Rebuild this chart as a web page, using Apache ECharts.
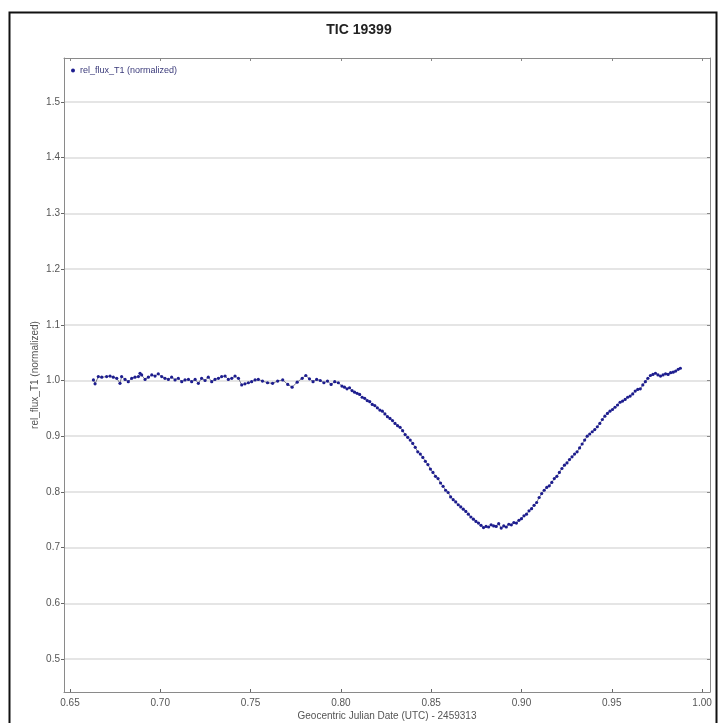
<!DOCTYPE html>
<html>
<head>
<meta charset="utf-8">
<script src="https://cdn.jsdelivr.net/npm/echarts@6/dist/echarts.min.js"></script>
<style>
  html, body { margin: 0; padding: 0; background: #fff; }
  #main { width: 718px; height: 723px; }
</style>
</head>
<body>
<div id="main"></div>
<script>
// Geocentric JD (UTC) - 2459313
var jdOffset = [
  0.6630, 0.6639, 0.6657, 0.6676, 0.6703, 0.6722, 0.6740, 0.6759, 0.6777, 0.6786,
  0.6805, 0.6823, 0.6842, 0.6860, 0.6879, 0.6888, 0.6897, 0.6916, 0.6934, 0.6953,
  0.6971, 0.6989, 0.7008, 0.7026, 0.7045, 0.7063, 0.7082, 0.7100, 0.7119, 0.7137,
  0.7156, 0.7174, 0.7193, 0.7211, 0.7229, 0.7248, 0.7266, 0.7285, 0.7303, 0.7322,
  0.7340, 0.7359, 0.7377, 0.7396, 0.7414, 0.7433, 0.7451, 0.7469, 0.7488, 0.7506,
  0.7525, 0.7543,
  0.7566, 0.7594, 0.7622, 0.7650, 0.7678, 0.7706, 0.7730, 0.7758, 0.7786, 0.7806,
  0.7826, 0.7846, 0.7866, 0.7886, 0.7906, 0.7926, 0.7946, 0.7966, 0.7986, 0.8006,
  0.8020, 0.8034, 0.8048, 0.8062, 0.8076, 0.8090, 0.8104, 0.8118, 0.8132, 0.8146,
  0.8160, 0.8174, 0.8188, 0.8202, 0.8216, 0.8230, 0.8244, 0.8258, 0.8272, 0.8286,
  0.8300, 0.8314, 0.8328, 0.8342, 0.8356, 0.8370, 0.8384, 0.8398, 0.8412, 0.8426,
  0.8440, 0.8454, 0.8468, 0.8482, 0.8496, 0.8510, 0.8524, 0.8538, 0.8552, 0.8566,
  0.8580, 0.8594, 0.8608, 0.8622, 0.8636, 0.8650, 0.8664, 0.8678, 0.8692, 0.8706,
  0.8720, 0.8734, 0.8748, 0.8762, 0.8776,
  0.8790, 0.8804, 0.8818, 0.8832, 0.8846, 0.8860, 0.8874, 0.8888, 0.8902, 0.8916,
  0.8930, 0.8944, 0.8958, 0.8972,
  0.8986, 0.9000, 0.9014, 0.9028, 0.9042, 0.9056, 0.9070, 0.9084, 0.9098, 0.9112,
  0.9126, 0.9140, 0.9154, 0.9168, 0.9182, 0.9196, 0.9210, 0.9224, 0.9238, 0.9252,
  0.9266, 0.9280, 0.9294, 0.9308, 0.9322, 0.9336, 0.9350, 0.9364, 0.9378, 0.9392,
  0.9406, 0.9420, 0.9434, 0.9448, 0.9462, 0.9476, 0.9490, 0.9504, 0.9518, 0.9532,
  0.9546, 0.9560, 0.9574, 0.9588, 0.9602, 0.9616, 0.9630, 0.9644,
  0.9658, 0.9672, 0.9686, 0.9700, 0.9714, 0.9728, 0.9742, 0.9756, 0.9770, 0.9784,
  0.9798, 0.9812, 0.9826, 0.9840, 0.9854, 0.9868, 0.9880
];

var relFlux = [
  1.001, 0.994, 1.007, 1.006, 1.007, 1.008, 1.006, 1.004, 0.995, 1.007,
  1.002, 0.998, 1.004, 1.006, 1.007, 1.013, 1.010, 1.002, 1.006, 1.010,
  1.008, 1.012, 1.007, 1.004, 1.002, 1.006, 1.001, 1.004, 0.998, 1.001,
  1.002, 0.998, 1.002, 0.995, 1.004, 1.000, 1.006, 0.998, 1.002, 1.004,
  1.007, 1.008, 1.002, 1.004, 1.008, 1.004, 0.992, 0.994, 0.996, 0.998,
  1.001, 1.002,
  0.999, 0.996, 0.995, 0.999, 1.001, 0.993, 0.988, 0.997, 1.004, 1.009,
  1.003, 0.998, 1.002, 1.000, 0.996, 0.999, 0.993, 0.998, 0.996, 0.990,
  0.988, 0.985, 0.987, 0.982, 0.979, 0.977, 0.975, 0.970, 0.968, 0.964,
  0.962, 0.957, 0.955, 0.951, 0.947, 0.945, 0.940, 0.935, 0.932, 0.928,
  0.923, 0.919, 0.916, 0.910, 0.903, 0.898, 0.893, 0.887, 0.880, 0.872,
  0.868, 0.862, 0.855, 0.849, 0.841, 0.835, 0.828, 0.824, 0.816, 0.810,
  0.803, 0.799, 0.791, 0.786, 0.782, 0.777, 0.773, 0.769, 0.765, 0.760,
  0.755, 0.751, 0.747, 0.744, 0.740,
  0.736, 0.738, 0.737, 0.741, 0.739, 0.738, 0.743, 0.735, 0.739, 0.737,
  0.742, 0.741, 0.745, 0.744,
  0.749, 0.752, 0.757, 0.760, 0.766, 0.770, 0.776, 0.781, 0.790, 0.797,
  0.803, 0.808, 0.811, 0.817, 0.824, 0.828, 0.835, 0.842, 0.848, 0.852,
  0.858, 0.863, 0.868, 0.872, 0.879, 0.886, 0.893, 0.900, 0.904, 0.908,
  0.912, 0.917, 0.923, 0.930, 0.936, 0.941, 0.945, 0.948, 0.952, 0.956,
  0.961, 0.963, 0.966, 0.970, 0.972, 0.976, 0.981, 0.984,
  0.985, 0.992, 0.998, 1.004, 1.009, 1.011, 1.013, 1.010, 1.008, 1.010,
  1.012, 1.011, 1.014, 1.015, 1.017, 1.020, 1.022
];

var xTicks = [0.65, 0.70, 0.75, 0.80, 0.85, 0.90, 0.95, 1.00];
var yTicks = [0.5, 0.6, 0.7, 0.8, 0.9, 1.0, 1.1, 1.2, 1.3, 1.4, 1.5];

var chart = echarts.init(document.getElementById('main'));

var points = jdOffset.map(function (x, i) { return [x, relFlux[i]]; });

var font = 'Liberation Sans, Arial, sans-serif';
var axisGray = '#8a8a8a';

var option = {
  backgroundColor: '#fff',
  animation: false,
  title: {
    text: 'TIC 19399',
    left: 'center',
    top: 18,
    textStyle: { fontFamily: font, fontSize: 14, fontWeight: 'bold', color: '#222' }
  },
  legend: {
    left: 66,
    top: 61,
    icon: 'circle',
    itemWidth: 4,
    itemHeight: 4,
    itemGap: 4,
    textStyle: { fontFamily: font, fontSize: 9, color: '#3a3a7a' },
    data: ['rel_flux_T1 (normalized)']
  },
  grid: { left: 64, right: 8, top: 58, bottom: 31, outerBoundsMode: 'none' },
  xAxis: [{
    type: 'value',
    min: 0.6467,
    max: 1.0044,
    name: 'Geocentric Julian Date (UTC) - 2459313',
    nameLocation: 'middle',
    nameGap: 19,
    nameMoveOverlap: false,
    nameTextStyle: { fontFamily: font, fontSize: 10, color: '#555' },
    axisLine: { lineStyle: { color: axisGray, width: 1 } },
    axisTick: { inside: true, length: 3, lineStyle: { color: '#666' }, customValues: xTicks },
    axisLabel: {
      customValues: xTicks,
      margin: 6,
      fontFamily: font, fontSize: 10, color: '#555',
      formatter: function (v) { return v.toFixed(2); }
    },
    splitLine: { show: false }
  }, {
    type: 'value',
    position: 'top',
    min: 0.6467,
    max: 1.0044,
    axisLine: { show: true, lineStyle: { color: axisGray, width: 1 } },
    axisTick: { inside: true, length: 3, lineStyle: { color: '#888' }, customValues: xTicks },
    axisLabel: { show: false },
    splitLine: { show: false }
  }],
  yAxis: [{
    type: 'value',
    min: 0.4408,
    max: 1.579,
    name: 'rel_flux_T1 (normalized)',
    nameLocation: 'middle',
    nameGap: 24,
    nameMoveOverlap: false,
    nameTextStyle: { fontFamily: font, fontSize: 10, color: '#555' },
    axisLine: { show: true, lineStyle: { color: axisGray, width: 1 } },
    axisTick: { show: true, length: 3, lineStyle: { color: '#666' }, customValues: yTicks },
    axisLabel: {
      customValues: yTicks,
      margin: 4,
      fontFamily: font, fontSize: 10, color: '#555',
      formatter: function (v) { return v.toFixed(1); }
    },
    splitLine: { show: true, lineStyle: { color: '#dcdcdc', width: 1.5 } }
  }, {
    type: 'value',
    position: 'right',
    min: 0.4408,
    max: 1.579,
    axisLine: { show: true, lineStyle: { color: axisGray, width: 1 } },
    axisTick: { show: true, inside: true, length: 3, lineStyle: { color: '#888' }, customValues: yTicks },
    axisLabel: { show: false },
    splitLine: { show: false }
  }],
  graphic: [{
    type: 'rect',
    left: 7,
    top: 10,
    shape: { width: 707, height: 720 },
    style: { fill: 'none', stroke: '#111', lineWidth: 2 },
    silent: true
  }],
  series: [{
    name: 'rel_flux_T1 (normalized)',
    type: 'line',
    xAxisIndex: 0,
    yAxisIndex: 0,
    data: points,
    symbol: 'circle',
    symbolSize: 3.2,
    showAllSymbol: true,
    itemStyle: { color: '#1d1d8f' },
    lineStyle: { color: '#5a5a70', width: 0.8 },
    z: 3
  }]
};

chart.setOption(option);
</script>
</body>
</html>
